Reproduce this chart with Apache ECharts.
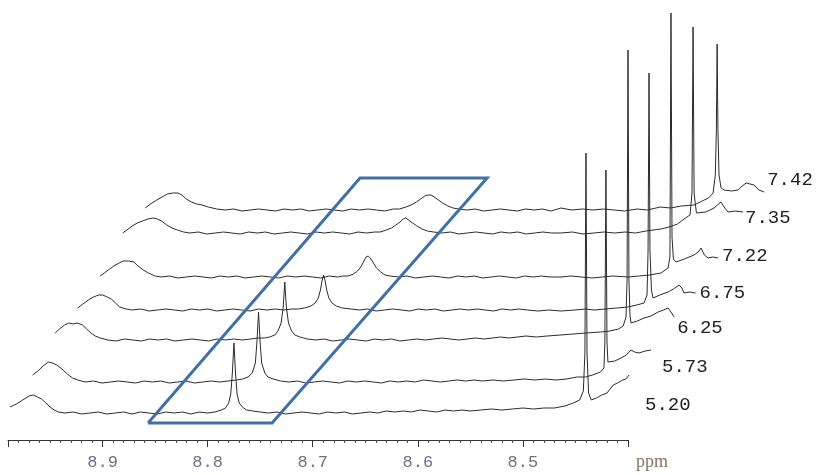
<!DOCTYPE html>
<html>
<head>
<meta charset="utf-8">
<script src="https://cdn.jsdelivr.net/npm/echarts@6/dist/echarts.min.js"></script>
<style>
  html, body { margin: 0; padding: 0; background: #fff; }
  #main { width: 818px; height: 475px; }
</style>
</head>
<body>
<div id="main"></div>
<script>
// pH of each spectrum, front to back
const traceNames = ['5.20', '5.73', '6.25', '6.75', '7.22', '7.35', '7.42'];
const tickLabels = ['8.9', '8.8', '8.7', '8.6', '8.5'];

// stacking: each spectrum is moved right (ppm) and up (intensity units)
const traceShift = [0, 0.0214, 0.0429, 0.0643, 0.0857, 0.1071, 0.1286];
const traceLift = [27, 58, 100, 130, 163, 207, 230];

// [ppm, intensity]
const trace520 = [[8.988,6],[8.982,9],[8.976,13],[8.970,17],[8.966,18],[8.962,16],[8.958,14],[8.954,10],[8.950,6],[8.946,3],[8.942,1],[8.936,0],[8.928,1],[8.920,-1],[8.912,0],[8.904,1],[8.896,-1],[8.888,0],[8.880,1],[8.872,-1],[8.864,1],[8.856,0],[8.848,-1],[8.840,1],[8.832,0],[8.824,1],[8.816,-1],[8.808,1],[8.800,0],[8.793,1],[8.787,3],[8.783,5],[8.780,10],[8.778,19],[8.7765,40],[8.775,70],[8.7735,40],[8.772,19],[8.770,10],[8.767,6],[8.763,3],[8.757,2],[8.750,1],[8.742,0],[8.734,1],[8.726,-1],[8.718,0],[8.710,1],[8.702,0],[8.694,-1],[8.686,1],[8.678,0],[8.670,1],[8.662,-1],[8.654,0],[8.646,1],[8.638,0],[8.630,2],[8.622,1],[8.614,2],[8.606,1],[8.598,3],[8.590,2],[8.582,1],[8.574,3],[8.566,2],[8.558,3],[8.550,2],[8.540,3],[8.530,4],[8.520,3],[8.510,4],[8.500,5],[8.490,4],[8.480,5],[8.470,5],[8.460,7],[8.452,10],[8.446,13],[8.4425,22],[8.4410,60],[8.440,260],[8.4390,60],[8.4375,20],[8.435,13],[8.430,15],[8.425,18],[8.420,20],[8.414,28],[8.410,30],[8.405,33],[8.402,34],[8.399,38]];
const trace573 = [[8.988,7],[8.983,11],[8.978,16],[8.973,20],[8.969,19],[8.965,17],[8.960,13],[8.955,8],[8.950,4],[8.945,2],[8.938,0],[8.930,1],[8.922,-1],[8.914,0],[8.906,1],[8.898,0],[8.890,-1],[8.882,1],[8.874,0],[8.866,1],[8.858,-1],[8.850,0],[8.842,1],[8.834,-1],[8.826,0],[8.818,1],[8.810,0],[8.802,1],[8.794,2],[8.788,3],[8.783,5],[8.779,9],[8.776,19],[8.7745,40],[8.773,70],[8.7715,40],[8.770,19],[8.767,9],[8.764,5],[8.759,3],[8.752,1],[8.744,0],[8.736,1],[8.728,-1],[8.720,0],[8.712,1],[8.704,0],[8.696,-1],[8.688,1],[8.680,0],[8.672,1],[8.664,0],[8.656,-1],[8.648,1],[8.640,0],[8.632,1],[8.624,0],[8.616,2],[8.608,1],[8.600,0],[8.592,1],[8.584,2],[8.576,1],[8.568,2],[8.560,1],[8.550,2],[8.540,1],[8.530,2],[8.520,3],[8.510,2],[8.500,3],[8.490,2],[8.480,3],[8.470,5],[8.462,5],[8.455,7],[8.4476,10],[8.4443,14],[8.4434,40],[8.4424,212],[8.4414,40],[8.4405,20],[8.4395,19],[8.434,21],[8.428,24],[8.423,27],[8.4186,32],[8.415,30],[8.411,29],[8.405,31],[8.3995,32]];
const trace625 = [[8.988,7],[8.984,11],[8.979,15],[8.975,17],[8.971,16],[8.967,17],[8.962,15],[8.958,11],[8.954,7],[8.950,4],[8.945,2],[8.938,0],[8.930,-1],[8.922,1],[8.914,0],[8.906,-1],[8.898,1],[8.890,0],[8.882,1],[8.874,-1],[8.866,0],[8.858,1],[8.850,0],[8.842,-1],[8.834,1],[8.826,0],[8.818,1],[8.810,0],[8.802,1],[8.795,2],[8.789,2],[8.784,3],[8.779,5],[8.776,9],[8.773,17],[8.771,33],[8.7695,58],[8.768,33],[8.766,17],[8.763,9],[8.760,5],[8.755,3],[8.748,1],[8.740,0],[8.732,1],[8.724,-1],[8.716,0],[8.708,1],[8.700,0],[8.692,-1],[8.684,1],[8.676,0],[8.668,1],[8.660,-1],[8.652,0],[8.644,1],[8.636,0],[8.628,1],[8.620,2],[8.612,1],[8.604,0],[8.596,1],[8.588,2],[8.580,1],[8.572,2],[8.564,3],[8.556,2],[8.548,3],[8.540,4],[8.530,3],[8.520,4],[8.507,5],[8.495,6],[8.483,7],[8.469,8],[8.460,9],[8.452,11],[8.4475,14],[8.4448,23],[8.4438,60],[8.4429,290],[8.4420,60],[8.441,25],[8.440,17],[8.434,19],[8.4276,22],[8.421,24],[8.4143,28],[8.409,30],[8.4048,32],[8.402,28],[8.399,23]];
const trace675 = [[8.988,2],[8.983,6],[8.978,10],[8.973,13],[8.968,15],[8.964,15],[8.960,13],[8.956,11],[8.952,7],[8.948,3],[8.942,1],[8.936,0],[8.928,1],[8.920,-1],[8.912,0],[8.904,1],[8.896,0],[8.888,-1],[8.880,1],[8.872,0],[8.864,1],[8.856,-1],[8.848,0],[8.840,1],[8.832,0],[8.824,-1],[8.816,1],[8.808,0],[8.800,1],[8.792,0],[8.784,1],[8.778,1],[8.772,2],[8.766,4],[8.762,7],[8.759,12],[8.757,20],[8.7555,29],[8.754,35],[8.7525,29],[8.751,20],[8.749,12],[8.746,7],[8.742,4],[8.736,2],[8.728,1],[8.720,0],[8.712,1],[8.704,-1],[8.696,0],[8.688,1],[8.680,0],[8.672,-1],[8.664,1],[8.656,0],[8.648,1],[8.640,-1],[8.632,0],[8.624,1],[8.616,0],[8.608,1],[8.600,0],[8.592,-1],[8.584,1],[8.576,0],[8.568,1],[8.560,0],[8.550,-1],[8.540,0],[8.528,-1],[8.515,0],[8.505,1],[8.4967,0],[8.486,1],[8.475,2],[8.4643,3],[8.456,5],[8.449,7],[8.4462,15],[8.4452,60],[8.4443,237],[8.4434,60],[8.4420,20],[8.4405,12],[8.434,15],[8.4262,18],[8.421,21],[8.4157,25],[8.413,22],[8.411,17],[8.406,18],[8.400,17]];
const trace722 = [[8.988,1],[8.984,4],[8.979,8],[8.975,11],[8.970,14],[8.966,16],[8.961,16],[8.956,15],[8.952,11],[8.947,7],[8.942,4],[8.936,1],[8.930,0],[8.922,1],[8.914,-1],[8.906,0],[8.898,1],[8.890,0],[8.882,-1],[8.874,1],[8.866,0],[8.858,1],[8.850,-1],[8.842,0],[8.834,1],[8.826,0],[8.818,-1],[8.810,1],[8.802,0],[8.794,1],[8.786,0],[8.778,-1],[8.770,1],[8.762,0],[8.757,1],[8.752,1],[8.747,3],[8.743,6],[8.740,10],[8.737,16],[8.735,20],[8.733,21],[8.731,19],[8.728,14],[8.725,9],[8.721,5],[8.717,2],[8.712,1],[8.704,0],[8.696,1],[8.688,-1],[8.680,0],[8.672,1],[8.664,0],[8.656,-1],[8.648,1],[8.640,0],[8.632,1],[8.624,-1],[8.616,0],[8.608,1],[8.600,0],[8.592,-1],[8.584,1],[8.576,0],[8.568,1],[8.560,0],[8.5495,0],[8.540,1],[8.530,0],[8.520,-1],[8.510,0],[8.500,1],[8.4857,0],[8.475,1],[8.465,2],[8.4543,4],[8.4476,9],[8.4458,20],[8.4448,264],[8.4438,40],[8.4425,18],[8.440,15],[8.432,18],[8.4229,22],[8.419,25],[8.4162,29],[8.413,22],[8.4095,19],[8.405,20],[8.400,19]];
const trace735 = [[8.988,0],[8.984,3],[8.979,7],[8.974,10],[8.969,12],[8.964,14],[8.959,15],[8.955,14],[8.951,12],[8.946,8],[8.941,5],[8.936,3],[8.930,1],[8.924,0],[8.916,1],[8.908,-1],[8.900,0],[8.892,1],[8.884,0],[8.876,-1],[8.868,1],[8.860,0],[8.852,1],[8.844,-1],[8.836,0],[8.828,1],[8.820,0],[8.812,-1],[8.804,1],[8.796,0],[8.788,1],[8.780,0],[8.772,-1],[8.764,1],[8.756,0],[8.748,1],[8.743,1],[8.737,3],[8.732,5],[8.728,8],[8.724,11],[8.721,14],[8.7186,15],[8.716,13],[8.712,10],[8.708,7],[8.703,4],[8.698,2],[8.692,1],[8.684,0],[8.676,1],[8.668,-1],[8.660,0],[8.652,1],[8.644,0],[8.636,-1],[8.628,1],[8.620,0],[8.612,1],[8.604,-1],[8.596,0],[8.588,1],[8.580,0],[8.571,0],[8.560,1],[8.550,-1],[8.540,0],[8.530,1],[8.520,0],[8.510,1],[8.500,0],[8.490,2],[8.4757,4],[8.468,6],[8.460,9],[8.4538,14],[8.4481,18],[8.4462,40],[8.4452,206],[8.4442,40],[8.442,20],[8.4405,18],[8.433,21],[8.4252,25],[8.422,28],[8.4186,31],[8.415,25],[8.4119,21],[8.405,22],[8.3976,21]];
const trace742 = [[8.988,2],[8.983,6],[8.977,10],[8.972,13],[8.967,16],[8.962,17],[8.957,17],[8.953,15],[8.949,11],[8.944,8],[8.939,6],[8.934,5],[8.928,3],[8.920,1],[8.912,0],[8.904,1],[8.896,-1],[8.888,0],[8.880,1],[8.872,0],[8.864,-1],[8.856,1],[8.848,0],[8.840,1],[8.832,-1],[8.824,0],[8.816,1],[8.808,0],[8.800,-1],[8.792,1],[8.784,0],[8.776,1],[8.768,0],[8.760,-1],[8.752,1],[8.746,1],[8.740,3],[8.735,5],[8.730,8],[8.726,11],[8.722,14],[8.719,15],[8.716,15],[8.713,13],[8.709,10],[8.705,7],[8.700,4],[8.695,2],[8.690,1],[8.682,0],[8.674,1],[8.666,-1],[8.658,0],[8.650,1],[8.642,0],[8.634,-1],[8.626,1],[8.618,0],[8.610,1],[8.602,-1],[8.5924,2],[8.582,0],[8.572,1],[8.562,0],[8.552,1],[8.542,0],[8.532,-1],[8.520,1],[8.510,0],[8.4981,3],[8.488,2],[8.478,4],[8.4657,5],[8.458,9],[8.452,12],[8.4476,17],[8.4455,35],[8.4445,80],[8.4438,166],[8.4430,80],[8.442,35],[8.440,22],[8.4371,20],[8.430,19],[8.4238,20],[8.420,24],[8.4162,27],[8.4086,25],[8.404,20],[8.399,18]];
const traces = [trace520, trace573, trace625, trace675, trace722, trace735, trace742];

// highlighted region (parallelogram), [ppm, level]
const boxPpm = [8.8567, 8.7387, 8.5341, 8.6550, 8.8567];
const boxLevel = [17, 17, 262, 262, 17];

const labelOffsets = [[24, 30], [19, 17], [11, 11], [12, 0], [12, -2], [10, 6], [11, -12]];

// axis range; the stacked spectra use a wider hidden axis with the same scale
const axisMin = 8.40, axisMax = 8.99;
const axisLeft = 8, axisRight = 628, pageWidth = 818;
const pxPerPpm = (axisRight - axisLeft) / (axisMax - axisMin);
const plotMin = axisMax - (pageWidth - axisLeft) / pxPerPpm;

const chart = echarts.init(document.getElementById('main'));

const series = traces.map((tr, k) => ({
  name: traceNames[k],
  type: 'line',
  xAxisIndex: 1,
  yAxisIndex: 1,
  data: tr.map(p => [p[0] - traceShift[k], traceLift[k] + p[1]]),
  symbol: 'none',
  silent: true,
  lineStyle: { color: '#2b2b2b', width: 1 },
  endLabel: {
    show: true,
    formatter: '{a}',
    align: 'left',
    offset: labelOffsets[k],
    fontFamily: 'Liberation Mono',
    fontSize: 19,
    color: '#222'
  }
}));

series.push({
  type: 'line',
  xAxisIndex: 1,
  yAxisIndex: 1,
  data: boxPpm.map((p, i) => [p, boxLevel[i]]),
  symbol: 'none',
  silent: true,
  z: 5,
  lineStyle: { color: '#4070a4', width: 3, join: 'miter' }
});

const option = {
  animation: false,
  grid: [
    { left: axisLeft, right: pageWidth - axisRight, top: 0, bottom: 35 },
    { left: axisLeft, right: 0, top: 0, bottom: 35 }
  ],
  xAxis: [{
    gridIndex: 0,
    type: 'value',
    inverse: true,
    min: axisMin,
    max: axisMax,
    interval: 0.1,
    name: 'ppm',
    nameLocation: 'start',
    nameGap: 8,
    nameTextStyle: {
      fontFamily: 'Liberation Serif',
      fontSize: 18,
      color: '#857462',
      align: 'left',
      verticalAlign: 'top',
      padding: [13, 0, 0, 0]
    },
    axisLine: { lineStyle: { color: '#333', width: 1 } },
    axisTick: { length: 7, lineStyle: { color: '#333' } },
    minorTick: { show: true, splitNumber: 10, length: 3, lineStyle: { color: '#444' } },
    splitLine: { show: false },
    axisLabel: {
      margin: 14,
      fontFamily: 'Liberation Mono',
      fontSize: 17,
      color: '#6f7184',
      formatter: v => {
        const s = v.toFixed(1);
        return tickLabels.includes(s) && Math.abs(v - parseFloat(s)) < 1e-6 ? s : '';
      }
    }
  }, {
    gridIndex: 1,
    type: 'value',
    inverse: true,
    min: plotMin,
    max: axisMax,
    show: false
  }],
  yAxis: [
    { gridIndex: 0, type: 'value', min: 0, max: 440, show: false },
    { gridIndex: 1, type: 'value', min: 0, max: 440, show: false }
  ],
  series: series
};

chart.setOption(option);
</script>
</body>
</html>
